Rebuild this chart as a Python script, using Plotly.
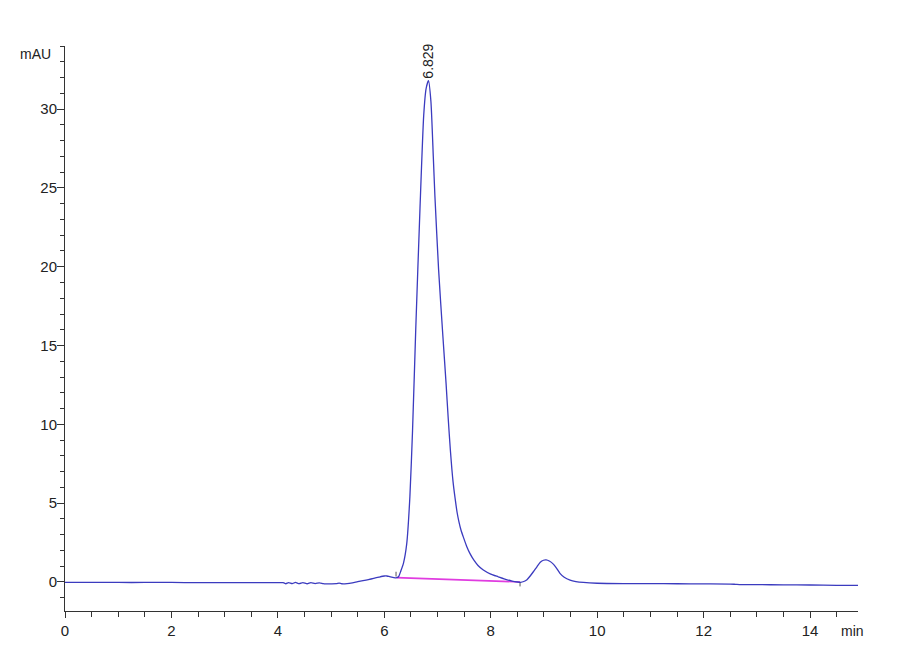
import plotly.graph_objects as go

# Chromatogram signal (min, mAU)
time_min = [0, 0.5, 1.0, 1.5, 2.0, 2.5, 3.0, 3.5, 4.0, 4.1, 4.15, 4.2, 4.27, 4.33,
            4.4, 4.47, 4.55, 4.62, 4.7, 4.78, 4.85, 4.9, 5.0, 5.1, 5.15, 5.2, 5.3,
            5.4, 5.5, 5.6, 5.7, 5.8, 5.9, 6.0, 6.05, 6.1, 6.18, 6.23, 6.27, 6.31,
            6.36, 6.42, 6.48, 6.53, 6.59, 6.67, 6.74, 6.785, 6.83, 6.875, 6.92, 6.95,
            7.02, 7.10, 7.16, 7.20, 7.24, 7.29, 7.33, 7.37, 7.40, 7.44, 7.49, 7.55,
            7.61, 7.68, 7.76, 7.86, 8.0, 8.14, 8.25, 8.40, 8.50, 8.56, 8.62, 8.68,
            8.74, 8.80, 8.87, 8.93, 8.99, 9.04, 9.10, 9.18, 9.24, 9.30, 9.38, 9.49,
            9.60, 9.74, 10.0, 10.5, 11.0, 11.5, 12.0, 12.5, 12.6, 12.7, 13.0, 13.5,
            14.0, 14.5, 14.9]
signal_mau = [-0.02, -0.02, -0.03, -0.03, -0.03, -0.04, -0.04, -0.04, -0.04, -0.04,
              -0.11, -0.04, -0.10, -0.03, -0.10, -0.04, -0.11, -0.04, -0.10, -0.05,
              -0.10, -0.12, -0.12, -0.11, -0.07, -0.11, -0.10, -0.05, 0.02, 0.08,
              0.15, 0.23, 0.31, 0.38, 0.38, 0.34, 0.28, 0.27, 0.35, 0.70, 1.20, 2.40,
              5.40, 9.60, 16.0, 23.7, 29.6, 31.3, 31.8, 30.5, 27.0, 24.5, 19.8, 15.6,
              12.6, 10.4, 8.4, 6.4, 5.3, 4.36, 3.85, 3.3, 2.8, 2.24,
              1.8, 1.4, 1.05, 0.76, 0.50, 0.33, 0.20, 0.06, 0.0, -0.02, 0.03, 0.15,
              0.38, 0.65, 0.98, 1.25, 1.38, 1.40, 1.33, 1.12, 0.85, 0.55, 0.30, 0.12,
              0.03, -0.03, -0.08, -0.10, -0.10, -0.11, -0.12, -0.13, -0.15, -0.17,
              -0.17, -0.18, -0.19, -0.21, -0.22]

# Integration baseline of the main peak
baseline_time = [6.23, 8.55]
baseline_mau = [0.28, 0.0]
# Integration start / end markers
start_mark_time = [6.22, 6.22]
start_mark_mau = [0.35, 0.65]
end_mark_time = [8.55, 8.55]
end_mark_mau = [-0.05, -0.28]

peak_rt = 6.829
peak_height = 31.8
peak_label = "6.829"

x_ticks = [0, 2, 4, 6, 8, 10, 12, 14]
y_ticks = [0, 5, 10, 15, 20, 25, 30]

FONT_NARROW = "Liberation Sans Narrow, Liberation Sans, Arial, sans-serif"
FONT = "Liberation Sans, Arial, sans-serif"
BLUE = "#3b3bbf"
PINK = "#e03ce0"
AX = "#333333"

fig = go.Figure()
fig.add_trace(go.Scatter(x=baseline_time, y=baseline_mau, mode="lines",
                         line=dict(color=PINK, width=1.6), hoverinfo="skip"))
fig.add_trace(go.Scatter(x=time_min, y=signal_mau, mode="lines",
                         line=dict(color=BLUE, width=1.3, shape="spline", smoothing=0.6)))
for tx, ty in ((start_mark_time, start_mark_mau), (end_mark_time, end_mark_mau)):
    fig.add_trace(go.Scatter(x=tx, y=ty, mode="lines",
                             line=dict(color="#555555", width=1), hoverinfo="skip"))

fig.add_annotation(x=peak_rt, y=peak_height, text=peak_label, textangle=-90,
                   showarrow=False, xanchor="center", yanchor="bottom", yshift=0,
                   font=dict(family=FONT, size=14, color="#222222"))
fig.add_annotation(xref="paper", yref="paper", x=-0.015, y=1.0, text="mAU",
                   showarrow=False, xanchor="right", yanchor="middle", yshift=-8,
                   font=dict(family=FONT_NARROW, size=14, color="#222222"))
fig.add_annotation(xref="paper", yref="paper", x=1.0, y=0, text="min",
                   showarrow=False, xanchor="center", yanchor="top", yshift=-10, xshift=-6,
                   font=dict(family=FONT_NARROW, size=14, color="#222222"))

fig.update_layout(
    width=900, height=660,
    margin=dict(l=57, r=50, t=38, b=57),
    paper_bgcolor="white", plot_bgcolor="white",
    showlegend=False,
    font=dict(family=FONT_NARROW, size=15, color="#222222"),
    xaxis=dict(range=[0, 14.9], tickvals=x_ticks, ticks="outside", ticklen=6,
               tickcolor=AX, showline=True, linecolor=AX, linewidth=1,
               showgrid=False, zeroline=False,
               minor=dict(dtick=0.5, ticks="outside", ticklen=5, tickcolor=AX)),
    yaxis=dict(range=[-1.84, 34.0], tickvals=y_ticks, ticks="outside", ticklen=7,
               tickcolor=AX, showline=True, linecolor=AX, linewidth=1,
               showgrid=False, zeroline=False, ticklabelstandoff=-3,
               minor=dict(dtick=1, ticks="outside", ticklen=4, tickcolor=AX)),
)

fig.write_html("out.html")
